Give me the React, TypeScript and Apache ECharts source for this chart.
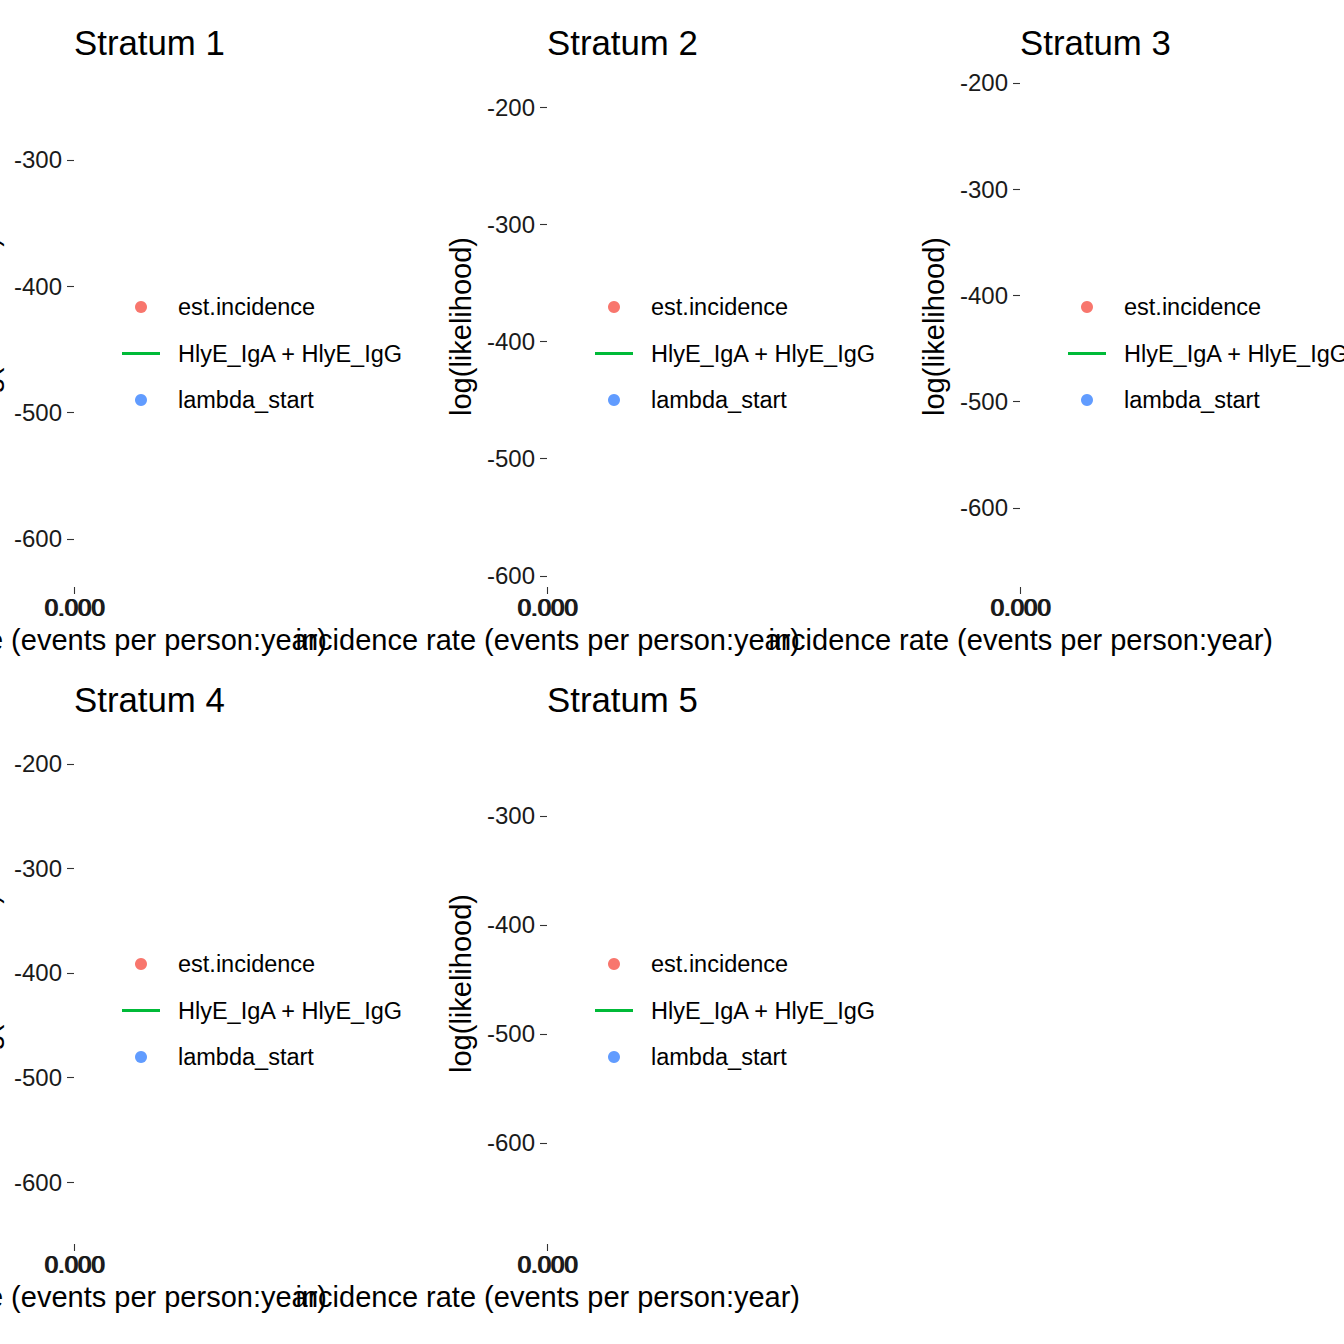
import React, { useEffect, useRef } from "react";
import * as echarts from "echarts";

// ---- data ----
const strata = ["Stratum 1", "Stratum 2", "Stratum 3", "Stratum 4", "Stratum 5"];
const yMinByStratum = [-638, -609.4, -674.4, -659.3, -692.7];
const yMaxByStratum = [-225.6, -165.0, -184.0, -160.8, -214.7];
const yTicksByStratum = [
  [-600, -500, -400, -300],
  [-600, -500, -400, -300, -200],
  [-600, -500, -400, -300, -200],
  [-600, -500, -400, -300, -200],
  [-600, -500, -400, -300],
];
const xLabelValues = [0, 0.0002, 0.0004]; // all print as "0.000" (overstruck)
const xTickValues = [0];
const xMin = 0;
const xMax = 0.0004;
const legendNames = ["est.incidence", "HlyE_IgA + HlyE_IgG", "lambda_start"];
const legendColors = ["#F8766D", "#00BA38", "#619CFF"];
// no curve points are visible in any panel
const estIncidence: number[][][] = [[], [], [], [], []];
const loglikCurve: number[][][] = [[], [], [], [], []];
const lambdaStart: number[][][] = [[], [], [], [], []];

const xTitle = "incidence rate (events per person:year)";
const yTitle = "log(likelihood)";

// ---- layout ----
const colX = [74, 547, 1020];
const rowTop = [66, 723];
const plotH = 521;
const plotW = 1.5;
const FONT = "Liberation Sans";
const SMALL = 24;
const LEGEND_FONT = 23.5;

export default function App() {
  const ref = useRef<HTMLDivElement>(null);

  useEffect(() => {
    if (!ref.current) return;
    const chart = echarts.init(ref.current, undefined, { renderer: "svg" });

    const grid: any[] = [];
    const xAxis: any[] = [];
    const yAxis: any[] = [];
    const title: any[] = [];
    const legend: any[] = [];
    const series: any[] = [];

    strata.forEach((name, i) => {
      const col = i % 3;
      const row = Math.floor(i / 3);
      const left = colX[col];
      const top = rowTop[row];

      grid.push({
        left,
        top,
        width: plotW,
        height: plotH,
        containLabel: false,
        outerBoundsMode: "none",
      });

      xAxis.push({
        gridIndex: i,
        type: "value",
        min: xMin,
        max: xMax,
        axisLine: { show: false },
        splitLine: { show: false },
        axisTick: {
          show: true,
          length: 7,
          customValues: xTickValues,
          lineStyle: { color: "#333333", width: 1.1 },
        },
        axisLabel: {
          show: true,
          customValues: xLabelValues,
          formatter: (v: number) => v.toFixed(3),
          margin: 8,
          fontSize: SMALL,
          color: "#1a1a1a",
          fontFamily: FONT,
          hideOverlap: false,
          showMinLabel: true,
          showMaxLabel: true,
        },
        name: xTitle,
        nameLocation: "middle",
        nameGap: 38,
        nameMoveOverlap: false,
        nameTextStyle: { fontSize: 29, color: "#000", fontFamily: FONT },
      });

      yAxis.push({
        gridIndex: i,
        type: "value",
        min: yMinByStratum[i],
        max: yMaxByStratum[i],
        axisLine: { show: false },
        splitLine: { show: false },
        axisTick: {
          show: true,
          length: 7,
          customValues: yTicksByStratum[i],
          lineStyle: { color: "#333333", width: 1.1 },
        },
        axisLabel: {
          show: true,
          customValues: yTicksByStratum[i],
          margin: 12,
          fontSize: SMALL,
          color: "#1a1a1a",
          fontFamily: FONT,
          showMinLabel: true,
          showMaxLabel: true,
        },
        name: yTitle,
        nameLocation: "middle",
        nameRotate: 90,
        nameGap: 72,
        nameMoveOverlap: false,
        nameTextStyle: { fontSize: 29, color: "#000", fontFamily: FONT },
      });

      title.push({
        text: name,
        left,
        top: top - 41,
        padding: 0,
        textStyle: {
          fontSize: 34.8,
          fontWeight: "normal",
          color: "#000",
          fontFamily: FONT,
        },
      });

      legend.push({
        orient: "vertical",
        left: left + 48,
        top: top + 229,
        padding: 0,
        itemWidth: 38,
        itemHeight: 12,
        itemGap: 22.5,
        selectedMode: false,
        textStyle: {
          fontSize: LEGEND_FONT,
          lineHeight: 24,
          color: "#000",
          fontFamily: FONT,
          padding: [0, 0, 0, 13],
        },
        data: [
          { name: legendNames[0], icon: "circle" },
          { name: legendNames[1], icon: "path://M0,0L38,0L38,3L0,3Z" },
          { name: legendNames[2], icon: "circle" },
        ],
      });

      series.push({
        name: legendNames[0],
        type: "scatter",
        xAxisIndex: i,
        yAxisIndex: i,
        data: estIncidence[i],
        itemStyle: { color: legendColors[0], opacity: 1 },
      });
      series.push({
        name: legendNames[1],
        type: "line",
        xAxisIndex: i,
        yAxisIndex: i,
        data: loglikCurve[i],
        showSymbol: false,
        itemStyle: { color: legendColors[1], opacity: 1 },
        lineStyle: { color: legendColors[1], width: 3 },
      });
      series.push({
        name: legendNames[2],
        type: "scatter",
        xAxisIndex: i,
        yAxisIndex: i,
        data: lambdaStart[i],
        itemStyle: { color: legendColors[2], opacity: 1 },
      });
    });

    chart.setOption({
      animation: false,
      backgroundColor: "#ffffff",
      textStyle: { fontFamily: FONT },
      grid,
      xAxis,
      yAxis,
      title,
      legend,
      series,
    });

    return () => chart.dispose();
  }, []);

  return (
    <div
      ref={ref}
      style={{ position: "fixed", left: 0, top: 0, width: 1344, height: 1344 }}
    />
  );
}
